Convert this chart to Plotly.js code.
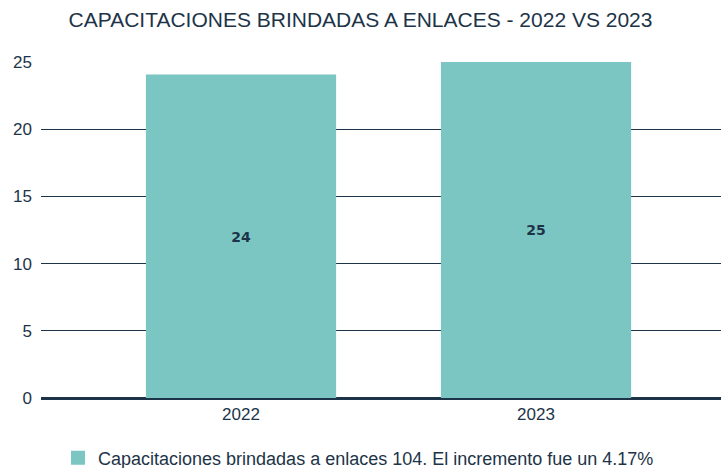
<!DOCTYPE html>
<html><head><meta charset="utf-8">
<script src="https://cdn.plot.ly/plotly-3.0.1.min.js"></script>
<style>html,body{margin:0;padding:0;background:#fff;}#chart{width:721px;height:468px;}</style>
</head><body><div id="chart"></div>
<script>
const categories = ["2022", "2023"];
const values = [24, 25];
const seriesName = "Capacitaciones brindadas a enlaces 104. El incremento fue un 4.17%";
const titleText = "CAPACITACIONES BRINDADAS A ENLACES - 2022 VS 2023";
const yTicks = [0, 5, 10, 15, 20, 25];

const ink = "#1d3448";
const barColor = "#7bc6c2";
const font = "'Liberation Sans', Arial, sans-serif";

const trace = {
  type: "bar",
  x: categories,
  y: values,
  name: seriesName,
  marker: {color: barColor, line: {color: barColor, width: 2}},
  width: 0.638,
  text: values.map(String),
  textposition: "inside",
  insidetextanchor: "middle",
  textfont: {family: "'DejaVu Sans', sans-serif", size: 14, color: ink, weight: 700},
  showlegend: true,
  hoverinfo: "none"
};

const layout = {
  width: 721, height: 468,
  margin: {l: 41, r: 0, t: 62, b: 70, autoexpand: false},
  paper_bgcolor: "#fff", plot_bgcolor: "#fff",
  font: {family: font, color: ink},
  title: {text: titleText, font: {size: 21, color: ink, family: font}, x: 0.5, xref: "container", xanchor: "center", y: 0.958, yanchor: "middle"},
  xaxis: {type: "category", range: [-0.678, 1.627], tickfont: {size: 17, color: ink}, showgrid: false, showline: false, ticks: "", fixedrange: true, ticklabelstandoff: 4},
  yaxis: {range: [0, 25], tickvals: yTicks, tickfont: {size: 17, color: ink}, showgrid: true, gridcolor: ink, gridwidth: 1, zeroline: true, zerolinecolor: ink, zerolinewidth: 3, showline: false, ticks: "", ticklabelstandoff: 8},
  showlegend: true,
  legend: {orientation: "h", x: 0.025, xanchor: "left", yref: "container", y: 0.021, yanchor: "middle", font: {size: 18, color: ink}, itemwidth: 30},
  bargap: 0.2
};

Plotly.newPlot("chart", [trace], layout, {displayModeBar: false, staticPlot: true});
</script></body></html>
